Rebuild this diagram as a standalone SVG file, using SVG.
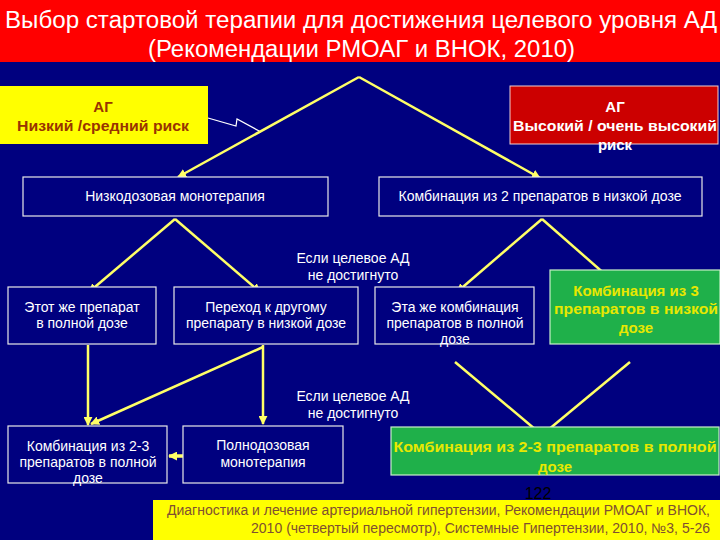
<svg xmlns="http://www.w3.org/2000/svg" width="720" height="540" viewBox="0 0 720 540">
<defs>
<style>
.bg{fill:#00007f}
.box{fill:#00007f;stroke:#e8e8e8;stroke-width:1.2}
.t{font-family:"Liberation Sans",Arial,sans-serif;font-size:14px;fill:#ffffff;text-anchor:middle}
.b{font-family:"Liberation Sans",Arial,sans-serif;font-size:15px;font-weight:bold;text-anchor:middle}
.ttl{font-family:"Liberation Sans",Arial,sans-serif;font-size:23px;fill:#ffffff}
.ln{stroke:#ffff66;stroke-width:2.5;fill:none;marker-end:url(#ah)}
.gbox{fill:#1fb04a;stroke:#c8f0c8;stroke-width:1.2}
.gt{fill:#e8e800}
.ft{font-family:"Liberation Sans",Arial,sans-serif;font-size:14px;fill:#805030;text-anchor:end}
</style>
<marker id="ah" viewBox="0 0 10 10" refX="9" refY="5" markerWidth="9" markerHeight="9" markerUnits="userSpaceOnUse" orient="auto">
<path d="M0,0 L10,5 L0,10 z" fill="#ffff66"/>
</marker>
</defs>
<rect class="bg" x="0" y="0" width="720" height="540"/>
<g id="title">
<rect x="0" y="0" width="720" height="62" fill="#ff0000"/>
<text class="ttl" x="5" y="28" textLength="712" lengthAdjust="spacingAndGlyphs">Выбор стартовой терапии для достижения целевого уровня АД</text>
<text class="ttl" x="148" y="57" textLength="427" lengthAdjust="spacingAndGlyphs">(Рекомендации РМОАГ и ВНОК, 2010)</text>
</g>
<g id="connectors">
<polyline points="208,118 236,126 237,119 261,132" fill="none" stroke="#ffffff" stroke-width="1.2"/>
<line class="ln" x1="359" y1="77" x2="178" y2="177"/>
<line class="ln" x1="359" y1="77" x2="540" y2="178"/>
<line class="ln" x1="175" y1="219" x2="89" y2="292"/>
<line class="ln" x1="175" y1="219" x2="260" y2="292"/>
<line class="ln" x1="542" y1="219" x2="457" y2="292"/>
<line class="ln" x1="542" y1="219" x2="623" y2="290"/>
<line class="ln" x1="88" y1="345" x2="88" y2="425"/>
<line class="ln" x1="263" y1="347" x2="91" y2="424"/>
<line class="ln" x1="263" y1="345" x2="263" y2="424"/>
<line class="ln" x1="200" y1="456" x2="169" y2="456" style="stroke-width:3.5"/>
<line class="ln" x1="455" y1="362" x2="542" y2="435"/>
<line class="ln" x1="630" y1="362" x2="542" y2="435"/>
</g>
<g id="low-risk">
<rect x="0" y="86" width="208" height="58" fill="#ffff00"/>
<text class="b" x="103" y="112" fill="#993300">АГ</text>
<text class="b" x="103" y="131" fill="#993300" textLength="172" lengthAdjust="spacingAndGlyphs">Низкий /средний риск</text>
</g>
<g id="high-risk">
<rect x="510" y="86" width="208" height="58" fill="#cc0000" stroke="#f0d0d0" stroke-width="1"/>
<text class="b" x="615" y="112" fill="#ffffff">АГ</text>
<text class="b" x="615" y="131" fill="#ffffff" textLength="204" lengthAdjust="spacingAndGlyphs">Высокий / очень высокий</text>
<text class="b" x="615" y="150" fill="#ffffff">риск</text>
</g>
<g id="low-dose-mono">
<rect class="box" x="23" y="177" width="305" height="39"/>
<text class="t" x="175" y="200.5">Низкодозовая монотерапия</text>
</g>
<g id="combo-2-low">
<rect class="box" x="379" y="177" width="323" height="39"/>
<text class="t" x="540" y="200.5" textLength="283" lengthAdjust="spacingAndGlyphs">Комбинация из 2 препаратов в низкой дозе</text>
</g>
<g id="note-1">
<text class="t" x="353" y="263">Если целевое АД</text>
<text class="t" x="353" y="280">не достигнуто</text>
</g>
<g id="same-drug-full">
<rect class="box" x="8" y="287" width="148" height="57"/>
<text class="t" x="82" y="312">Этот же препарат</text>
<text class="t" x="82" y="328">в полной дозе</text>
</g>
<g id="switch-drug">
<rect class="box" x="174" y="287" width="184" height="57"/>
<text class="t" x="266" y="312">Переход к другому</text>
<text class="t" x="266" y="328">препарату в низкой дозе</text>
</g>
<g id="same-combo-full">
<rect class="box" x="375" y="287" width="159" height="57"/>
<text class="t" x="455" y="312">Эта же комбинация</text>
<text class="t" x="455" y="328">препаратов в полной</text>
<text class="t" x="455" y="344">дозе</text>
</g>
<g id="combo-3-low">
<rect class="gbox" x="550" y="270" width="170" height="74"/>
<text class="b gt" x="636" y="296">Комбинация из 3</text>
<text class="b gt" x="636" y="314" textLength="164" lengthAdjust="spacingAndGlyphs">препаратов в низкой</text>
<text class="b gt" x="636" y="333">дозе</text>
</g>
<g id="note-2">
<text class="t" x="353" y="401">Если целевое АД</text>
<text class="t" x="353" y="418">не достигнуто</text>
</g>
<g id="combo-23-full-left">
<rect class="box" x="8" y="426" width="159" height="57"/>
<text class="t" x="88" y="451">Комбинация из 2-3</text>
<text class="t" x="88" y="467">препаратов в полной</text>
<text class="t" x="88" y="483">дозе</text>
</g>
<g id="full-dose-mono">
<rect class="box" x="183" y="426" width="160" height="57"/>
<text class="t" x="263" y="450">Полнодозовая</text>
<text class="t" x="263" y="467">монотерапия</text>
</g>
<g id="combo-23-full-right">
<rect class="gbox" x="391" y="427" width="328" height="48"/>
<text class="b gt" x="555" y="452" textLength="323" lengthAdjust="spacingAndGlyphs">Комбинация из 2-3 препаратов в полной</text>
<text class="b gt" x="555" y="472">дозе</text>
</g>
<g id="footer">
<rect x="153" y="500" width="567" height="40" fill="#ffff00"/>
<text class="ft" x="710" y="515" textLength="543" lengthAdjust="spacingAndGlyphs">Диагностика и лечение артериальной гипертензии, Рекомендации РМОАГ и ВНОК,</text>
<text class="ft" x="710" y="533" textLength="459" lengthAdjust="spacingAndGlyphs">2010 (четвертый пересмотр), Системные Гипертензии, 2010, №3, 5-26</text>
<text x="538" y="499" font-family="'Liberation Sans',Arial,sans-serif" font-size="16" fill="#000000" text-anchor="middle">122</text>
</g>
</svg>
